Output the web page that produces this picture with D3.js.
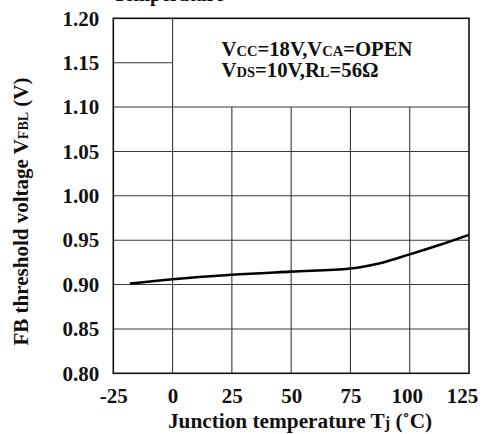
<!DOCTYPE html>
<html>
<head>
<meta charset="utf-8">
<script src="https://cdn.jsdelivr.net/npm/d3@7"></script>
<style>
  body { margin: 0; background: #fff; }
  svg { display: block; font-family: "Liberation Serif", "Times New Roman", serif; font-weight: bold; }
</style>
</head>
<body>
<svg id="chart" width="482" height="434"></svg>
<script>
// curve
const tempC = [-18, 0, 25, 50, 75, 87.5, 100, 112.5, 125];
const vfbl  = [0.901, 0.906, 0.911, 0.9146, 0.918, 0.924, 0.934, 0.9445, 0.956];

const xTicks = [-25, 0, 25, 50, 75, 100, 125];
const yTicks = [0.80, 0.85, 0.90, 0.95, 1.00, 1.05, 1.10, 1.15, 1.20];

const margin = {top: 18.3, right: 13, bottom: 60.7, left: 113.3};
const W = 482, H = 434;
const width = W - margin.left - margin.right;
const height = H - margin.top - margin.bottom;

const svg = d3.select("#chart");
const g = svg.append("g").attr("transform", `translate(${margin.left},${margin.top})`);

const x = d3.scaleLinear().domain([-25, 125]).range([0, width]);
const y = d3.scaleLinear().domain([0.80, 1.20]).range([height, 0]);

// grid: the note box covers x 0..125, y 1.10..1.20
const grid = g.append("g").attr("stroke", "#3a3a3a").attr("stroke-width", 1.1);
xTicks.slice(1, -1).forEach(t => {
  grid.append("line")
    .attr("x1", x(t)).attr("x2", x(t))
    .attr("y1", y(0.80)).attr("y2", t === 0 ? y(1.20) : y(1.10));
});
yTicks.slice(1, -1).forEach(v => {
  grid.append("line")
    .attr("x1", x(-25)).attr("x2", v > 1.101 ? x(0) : x(125))
    .attr("y1", y(v)).attr("y2", y(v));
});

// frame
g.append("rect").attr("width", width).attr("height", height)
  .attr("fill", "none").attr("stroke", "#111").attr("stroke-width", 1.6);

// axes (labels only)
const xAxis = d3.axisBottom(x).tickValues(xTicks).tickSize(0).tickPadding(15).tickFormat(d => String(d));
const yAxis = d3.axisLeft(y).tickValues(yTicks).tickSize(0).tickPadding(14).tickFormat(d3.format(".2f"));

const xg = g.append("g").attr("transform", `translate(0,${height})`).call(xAxis);
xg.select(".domain").remove();
xg.selectAll("text").attr("font-size", 21).attr("font-family", "Liberation Serif").attr("font-weight", "bold").attr("fill", "#111")
  .attr("dx", d => d === 125 ? -7 : (d === 100 ? -3 : 0));

const yg = g.append("g").call(yAxis);
yg.select(".domain").remove();
yg.selectAll("text").attr("font-size", 21).attr("font-family", "Liberation Serif").attr("font-weight", "bold").attr("fill", "#111");

// curve
const line = d3.line().x((d, i) => x(tempC[i])).y(d => y(d)).curve(d3.curveMonotoneX);
g.append("path").datum(vfbl).attr("d", line)
  .attr("fill", "none").attr("stroke", "#000").attr("stroke-width", 2.6);

// conditions note
const note = svg.append("text").attr("font-size", 20.7).attr("fill", "#111");
const l1 = note.append("tspan").attr("x", 221.5).attr("y", 56);
l1.append("tspan").text("V");
l1.append("tspan").attr("font-size", 14.5).text("CC");
l1.append("tspan").text("=18V,V");
l1.append("tspan").attr("font-size", 14.5).text("CA");
l1.append("tspan").text("=OPEN");
const l2 = note.append("tspan").attr("x", 221.5).attr("y", 77.3);
l2.append("tspan").text("V");
l2.append("tspan").attr("font-size", 14.5).text("DS");
l2.append("tspan").text("=10V,R");
l2.append("tspan").attr("font-size", 14.5).text("L");
l2.append("tspan").text("=56\u03A9");

// x title
const xt = svg.append("text").attr("x", 300).attr("y", 427.5).attr("text-anchor", "middle")
  .attr("font-size", 21.3).attr("fill", "#111");
xt.append("tspan").text("Junction temperature T");
xt.append("tspan").attr("font-size", 16).text("j");
xt.append("tspan").text(" (\u02DAC)");

// y title
const yt = svg.append("text").attr("transform", "translate(27.5,211.5) rotate(-90)")
  .attr("text-anchor", "middle").attr("font-size", 21).attr("fill", "#111");
yt.append("tspan").text("FB threshold voltage V");
yt.append("tspan").attr("font-size", 14).text("FBL");
yt.append("tspan").text(" (V)");

// clipped title at the very top
svg.append("text").attr("x", 113).attr("y", 0.5).attr("font-size", 20).attr("fill", "#111").text("Temperature");
</script>
</body>
</html>
